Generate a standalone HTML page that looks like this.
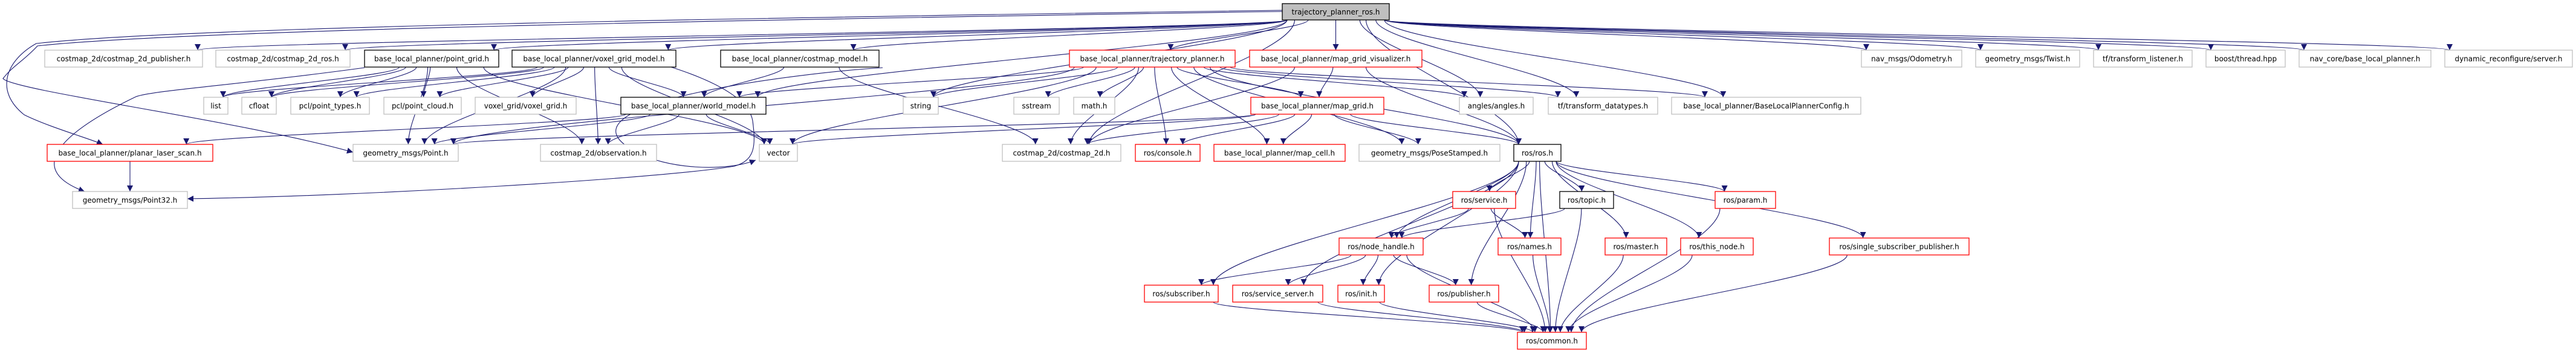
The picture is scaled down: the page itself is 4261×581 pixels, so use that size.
<!DOCTYPE html>
<html><head><meta charset="utf-8">
<style>
html,body{margin:0;padding:0;background:#fff;}
svg{display:block;}
text{font-family:"DejaVu Sans","Liberation Sans",sans-serif;font-size:12px;fill:#000;}
.g{fill:#fff;stroke:#bfbfbf;stroke-width:1.3;}
.k{fill:#fff;stroke:#000;stroke-width:1.3;}
.r{fill:#fff;stroke:#ff0000;stroke-width:1.3;}
.root{fill:#bfbfbf;stroke:#000;stroke-width:1.3;}
.e{fill:none;stroke:#191970;stroke-width:1.1;}
</style></head>
<body>
<svg id="s" width="4261" height="581" viewBox="0 0 4261 581" xmlns="http://www.w3.org/2000/svg">
<defs><marker id="a" viewBox="0 0 10 10" refX="10" refY="5" markerWidth="10" markerHeight="10" markerUnits="userSpaceOnUse" orient="auto"><path d="M0,0L10,5L0,10z" fill="#191970"/></marker></defs>
<g id="edges"></g>
<path class="e" marker-end="url(#a)" d="M2121,17 C1200,30 300,45 60,72 C10,100 -10,150 40,190 C80,210 150,230 170,239"/>
<path class="e" marker-end="url(#a)" d="M2121,19 C1200,33 300,50 62,76 C40,100 20,110 5,130 C20,150 400,200 584,252"/>
<path class="e" marker-end="url(#a)" d="M1110,111 C1200,140 1240,170 1245,200 C1250,240 1250,265 1215,275 C1100,295 600,325 310,329"/>
<path class="e" marker-end="url(#a)" d="M603,112 C400,140 250,150 225,160 C100,220 40,280 140,317"/>
<path class="e" marker-end="url(#a)" d="M1460,112 C1330,120 900,170 1050,250 C1100,280 1200,285 1250,265"/>
<g id="nodes">
<rect class="root" x="2121" y="6" width="177" height="27"/><text x="2209.5" y="24" text-anchor="middle">trajectory_planner_ros.h</text>
<rect class="g" x="74" y="83" width="261" height="28"/><text x="204.5" y="101.5" text-anchor="middle">costmap_2d/costmap_2d_publisher.h</text>
<rect class="g" x="357" y="83" width="222" height="28"/><text x="468" y="101.5" text-anchor="middle">costmap_2d/costmap_2d_ros.h</text>
<rect class="k" x="603" y="83" width="222" height="28"/><text x="714" y="101.5" text-anchor="middle">base_local_planner/point_grid.h</text>
<rect class="k" x="847" y="83" width="271" height="28"/><text x="982.5" y="101.5" text-anchor="middle">base_local_planner/voxel_grid_model.h</text>
<rect class="k" x="1192" y="83" width="262" height="28"/><text x="1323" y="101.5" text-anchor="middle">base_local_planner/costmap_model.h</text>
<rect class="r" x="1769" y="83" width="274" height="28"/><text x="1906" y="101.5" text-anchor="middle">base_local_planner/trajectory_planner.h</text>
<rect class="r" x="2067" y="83" width="285" height="28"/><text x="2209.5" y="101.5" text-anchor="middle">base_local_planner/map_grid_visualizer.h</text>
<rect class="g" x="3079" y="83" width="166" height="28"/><text x="3162" y="101.5" text-anchor="middle">nav_msgs/Odometry.h</text>
<rect class="g" x="3268" y="83" width="172" height="28"/><text x="3354" y="101.5" text-anchor="middle">geometry_msgs/Twist.h</text>
<rect class="g" x="3463" y="83" width="163" height="28"/><text x="3544.5" y="101.5" text-anchor="middle">tf/transform_listener.h</text>
<rect class="g" x="3649" y="83" width="131" height="28"/><text x="3714.5" y="101.5" text-anchor="middle">boost/thread.hpp</text>
<rect class="g" x="3803" y="83" width="218" height="28"/><text x="3912" y="101.5" text-anchor="middle">nav_core/base_local_planner.h</text>
<rect class="g" x="4044" y="83" width="211" height="28"/><text x="4149.5" y="101.5" text-anchor="middle">dynamic_reconfigure/server.h</text>

<rect class="g" x="337" y="161" width="40" height="28"/><text x="357" y="179.5" text-anchor="middle">list</text>
<rect class="g" x="400" y="161" width="57" height="28"/><text x="428.5" y="179.5" text-anchor="middle">cfloat</text>
<rect class="g" x="481" y="161" width="130" height="28"/><text x="546" y="179.5" text-anchor="middle">pcl/point_types.h</text>
<rect class="g" x="635" y="161" width="128" height="28"/><text x="699" y="179.5" text-anchor="middle">pcl/point_cloud.h</text>
<rect class="g" x="786" y="161" width="167" height="28"/><text x="869.5" y="179.5" text-anchor="middle">voxel_grid/voxel_grid.h</text>
<rect class="k" x="1027" y="161" width="240" height="28"/><text x="1147" y="179.5" text-anchor="middle">base_local_planner/world_model.h</text>
<rect class="g" x="1494" y="161" width="58" height="28"/><text x="1523" y="179.5" text-anchor="middle">string</text>
<rect class="g" x="1677" y="161" width="75" height="28"/><text x="1714.5" y="179.5" text-anchor="middle">sstream</text>
<rect class="g" x="1776" y="161" width="68" height="28"/><text x="1810" y="179.5" text-anchor="middle">math.h</text>
<rect class="r" x="2069" y="161" width="220" height="28"/><text x="2179" y="179.5" text-anchor="middle">base_local_planner/map_grid.h</text>
<rect class="g" x="2414" y="161" width="122" height="28"/><text x="2475" y="179.5" text-anchor="middle">angles/angles.h</text>
<rect class="g" x="2561" y="161" width="181" height="28"/><text x="2651.5" y="179.5" text-anchor="middle">tf/transform_datatypes.h</text>
<rect class="g" x="2765" y="161" width="313" height="28"/><text x="2921.5" y="179.5" text-anchor="middle">base_local_planner/BaseLocalPlannerConfig.h</text>

<rect class="r" x="78" y="239" width="274" height="28"/><text x="215" y="257.5" text-anchor="middle">base_local_planner/planar_laser_scan.h</text>
<rect class="g" x="584" y="239" width="174" height="28"/><text x="671" y="257.5" text-anchor="middle">geometry_msgs/Point.h</text>
<rect class="g" x="894" y="239" width="192" height="28"/><text x="990" y="257.5" text-anchor="middle">costmap_2d/observation.h</text>
<rect class="g" x="1256" y="239" width="63" height="28"/><text x="1287.5" y="257.5" text-anchor="middle">vector</text>
<rect class="g" x="1658" y="239" width="196" height="28"/><text x="1756" y="257.5" text-anchor="middle">costmap_2d/costmap_2d.h</text>
<rect class="r" x="1878" y="239" width="107" height="28"/><text x="1931.5" y="257.5" text-anchor="middle">ros/console.h</text>
<rect class="r" x="2008" y="239" width="217" height="28"/><text x="2116.5" y="257.5" text-anchor="middle">base_local_planner/map_cell.h</text>
<rect class="g" x="2248" y="239" width="233" height="28"/><text x="2364.5" y="257.5" text-anchor="middle">geometry_msgs/PoseStamped.h</text>
<rect class="k" x="2504" y="239" width="78" height="28"/><text x="2543" y="257.5" text-anchor="middle">ros/ros.h</text>

<rect class="g" x="120" y="317" width="190" height="28"/><text x="215" y="335.5" text-anchor="middle">geometry_msgs/Point32.h</text>
<rect class="r" x="2403" y="317" width="104" height="28"/><text x="2455" y="335.5" text-anchor="middle">ros/service.h</text>
<rect class="k" x="2580" y="317" width="89" height="28"/><text x="2624.5" y="335.5" text-anchor="middle">ros/topic.h</text>
<rect class="r" x="2837" y="317" width="100" height="28"/><text x="2887" y="335.5" text-anchor="middle">ros/param.h</text>

<rect class="r" x="2215" y="394" width="139" height="28"/><text x="2284.5" y="412.5" text-anchor="middle">ros/node_handle.h</text>
<rect class="r" x="2478" y="394" width="104" height="28"/><text x="2530" y="412.5" text-anchor="middle">ros/names.h</text>
<rect class="r" x="2655" y="394" width="102" height="28"/><text x="2706" y="412.5" text-anchor="middle">ros/master.h</text>
<rect class="r" x="2780" y="394" width="120" height="28"/><text x="2840" y="412.5" text-anchor="middle">ros/this_node.h</text>
<rect class="r" x="3026" y="394" width="231" height="28"/><text x="3141.5" y="412.5" text-anchor="middle">ros/single_subscriber_publisher.h</text>

<rect class="r" x="1893" y="472" width="122" height="28"/><text x="1954" y="490.5" text-anchor="middle">ros/subscriber.h</text>
<rect class="r" x="2039" y="472" width="149" height="28"/><text x="2113.5" y="490.5" text-anchor="middle">ros/service_server.h</text>
<rect class="r" x="2213" y="472" width="77" height="28"/><text x="2251.5" y="490.5" text-anchor="middle">ros/init.h</text>
<rect class="r" x="2364" y="472" width="115" height="28"/><text x="2421.5" y="490.5" text-anchor="middle">ros/publisher.h</text>

<rect class="r" x="2510" y="550" width="114" height="28"/><text x="2567" y="568.5" text-anchor="middle">ros/common.h</text>
</g>
</svg>
<script>
var N={R:[2121,6,2298,33],pub:[74,83,335,111],ros2d:[357,83,579,111],pg:[603,83,825,111],vgm:[847,83,1118,111],cm:[1192,83,1454,111],tp:[1769,83,2043,111],mgv:[2067,83,2352,111],odo:[3079,83,3245,111],twist:[3268,83,3440,111],tfl:[3463,83,3626,111],thr:[3649,83,3780,111],nav:[3803,83,4021,111],dyn:[4044,83,4255,111],
list:[337,161,377,189],cfloat:[400,161,457,189],ptypes:[481,161,611,189],pcloud:[635,161,763,189],vg:[786,161,953,189],wm:[1027,161,1267,189],string:[1494,161,1552,189],sstream:[1677,161,1752,189],math:[1776,161,1844,189],mg:[2069,161,2289,189],angles:[2414,161,2536,189],tfd:[2561,161,2742,189],blpc:[2765,161,3078,189],
pls:[78,239,352,267],point:[584,239,758,267],obs:[894,239,1086,267],vector:[1256,239,1319,267],c2d:[1658,239,1854,267],console:[1878,239,1985,267],mc:[2008,239,2225,267],pose:[2248,239,2481,267],ros:[2504,239,2582,267],
p32:[120,317,310,345],service:[2403,317,2507,345],topic:[2580,317,2669,345],param:[2837,317,2937,345],
nh:[2215,394,2354,422],names:[2478,394,2582,422],master:[2655,394,2757,422],thisnode:[2780,394,2900,422],ssp:[3026,394,3257,422],
sub:[1893,472,2015,500],ss:[2039,472,2188,500],init:[2213,472,2290,500],pubr:[2364,472,2479,500],common:[2510,550,2624,578]};
var E=[["R","pub"],["R","ros2d"],["R","pg"],["R","vgm"],["R","cm"],["R","tp"],["R","mgv"],["R","odo"],["R","twist"],["R","tfl"],["R","thr"],["R","nav"],["R","dyn"],["R","wm"],["R","string"],["R","angles"],["R","tfd"],["R","blpc"],["R","ros"],["R","c2d"],
["pg","list"],["pg","cfloat"],["pg","ptypes"],["pg","pcloud"],["pg","point"],["pg","obs"],["pg","vector"],
["vgm","list"],["vgm","cfloat"],["vgm","ptypes"],["vgm","pcloud"],["vgm","vg"],["vgm","wm"],["vgm","obs"],["vgm","point"],["vgm","vector"],
["wm","pls"],["wm","point"],["wm","obs"],["wm","vector"],["cm","wm"],["cm","c2d"],
["tp","wm"],["tp","string"],["tp","sstream"],["tp","math"],["tp","c2d"],["tp","console"],["tp","mc"],["tp","mg"],["tp","vector"],["tp","point"],["tp","angles"],["tp","tfd"],["tp","blpc"],["tp","ros"],["tp","pose"],
["mgv","mg"],["mgv","c2d"],["mgv","ros"],
["mg","vector"],["mg","c2d"],["mg","console"],["mg","mc"],["mg","pose"],["mg","ros"],["mg","point"],
["pls","p32"],
["ros","service"],["ros","topic"],["ros","param"],["ros","names"],["ros","master"],["ros","thisnode"],["ros","ssp"],["ros","nh"],["ros","init"],["ros","pubr"],["ros","sub"],["ros","ss"],["ros","common"],
["service","nh"],["service","names"],["service","common"],["topic","nh"],["topic","common"],
["nh","sub"],["nh","ss"],["nh","init"],["nh","pubr"],["nh","common"],
["names","common"],["master","common"],["thisnode","common"],["param","common"],["ssp","common"],["init","common"],["pubr","common"],["sub","common"],["ss","common"]];
var g=document.getElementById("edges"),h="";
function cl(v,a,b){return Math.max(a+8,Math.min(b-8,v));}
E.forEach(function(e){var s=N[e[0]],t=N[e[1]];
var scx=(s[0]+s[2])/2,tcx=(t[0]+t[2])/2;
var x1=cl(scx+(tcx-scx)*0.15,s[0],s[2]),y1=s[3];
var x2=cl(tcx-(tcx-scx)*0.1,t[0],t[2]),y2=t[1];
h+='<path class="e" marker-end="url(#a)" d="M'+x1+','+y1+' C'+x1+','+(y1+(y2-y1)*0.3)+' '+x2+','+(y2-(y2-y1)*0.3)+' '+x2+','+y2+'"/>';});
g.innerHTML=h;
</script>
</body></html>
